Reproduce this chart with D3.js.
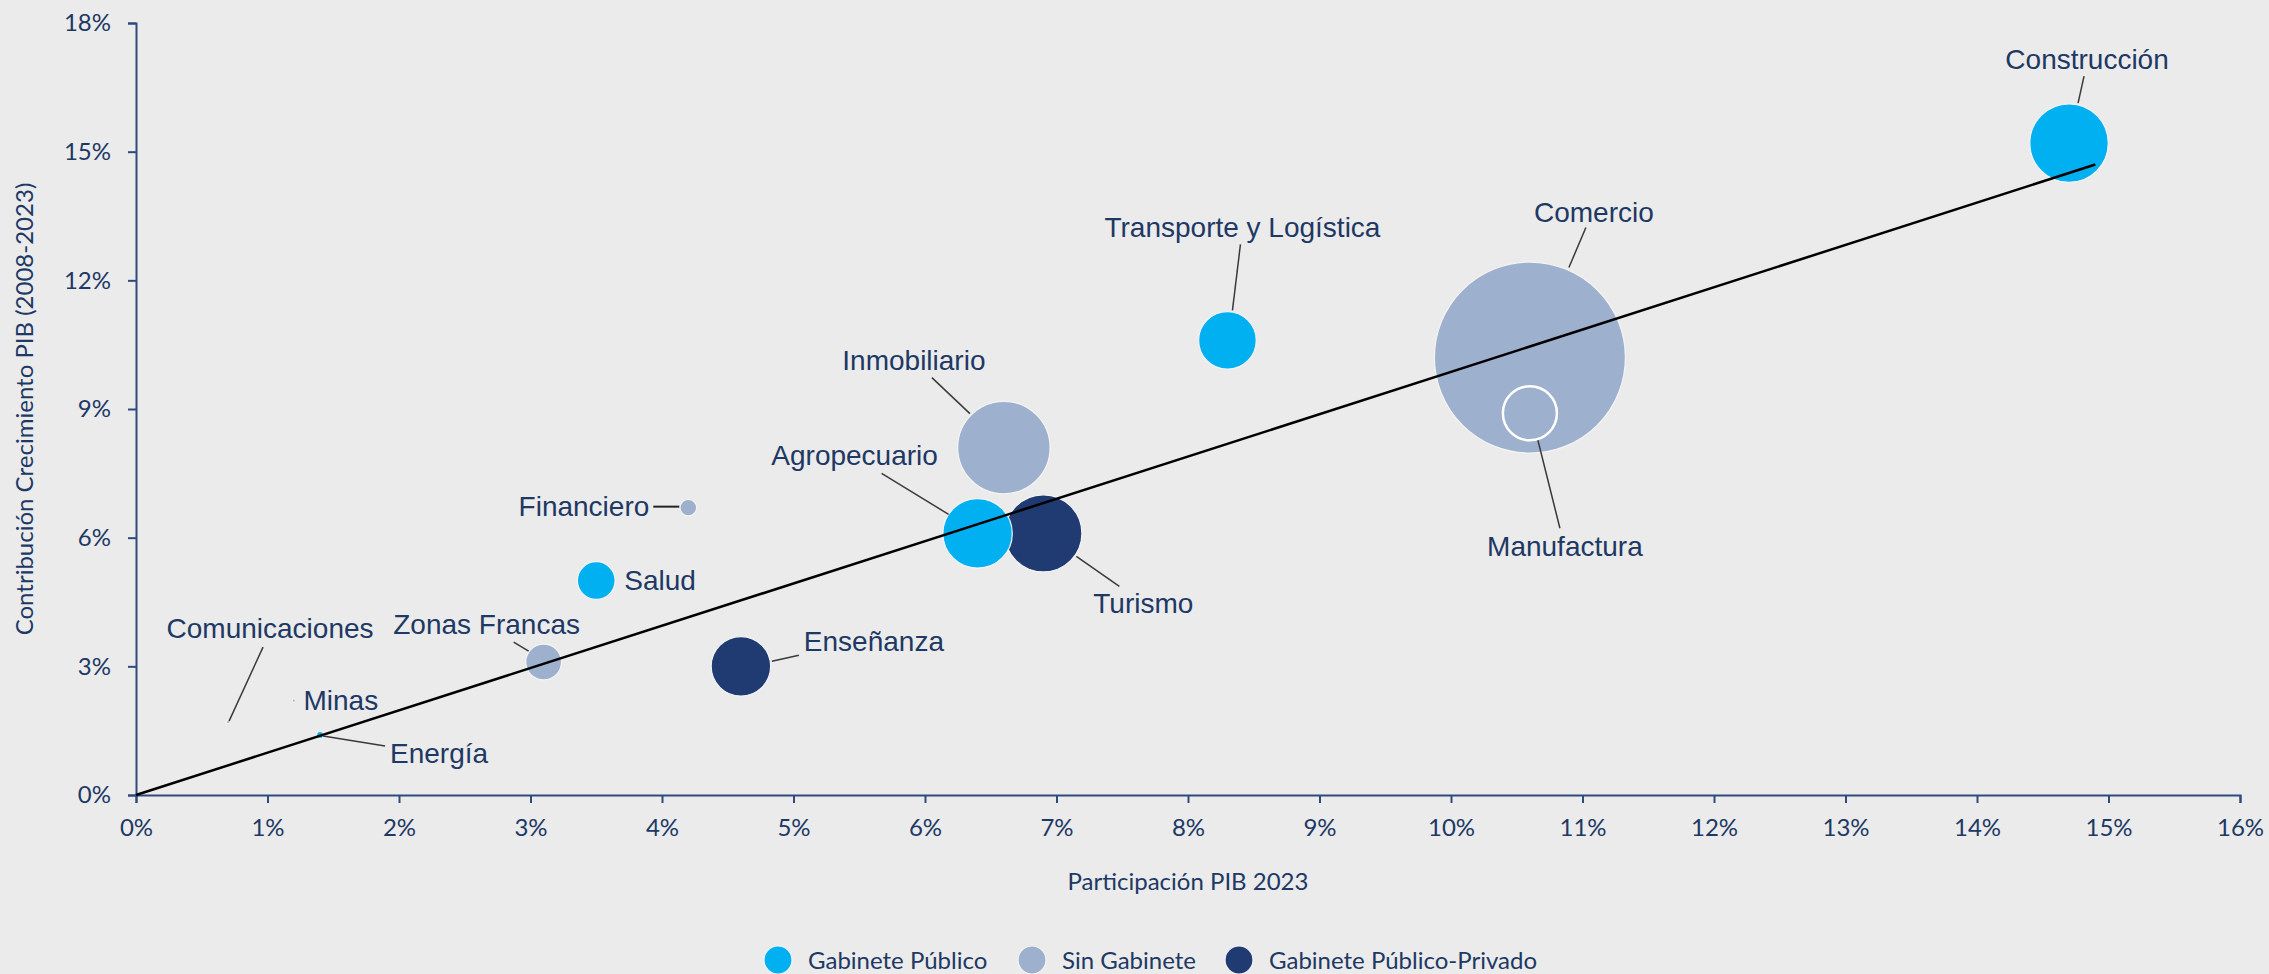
<!DOCTYPE html>
<html>
<head>
<meta charset="utf-8">
<script src="https://cdn.jsdelivr.net/npm/d3@7"></script>
<style>
  html, body { margin: 0; padding: 0; background: #ebebeb; }
  svg { display: block; }
</style>
</head>
<body>
<div id="chart"></div>
<script>
// sectores y valores
const sectores      = ["Comercio", "Inmobiliario", "Construcción", "Turismo", "Agropecuario", "Enseñanza",
                       "Transporte y Logística", "Manufactura", "Salud", "Zonas Francas", "Financiero",
                       "Energía", "Minas", "Comunicaciones"];
const participacion = [10.6, 6.6, 14.7, 6.9, 6.4, 4.6, 8.3, 10.6, 3.5, 3.1, 4.2, 1.4, 1.2, 0.7];
const contribucion  = [10.2, 8.1, 15.2, 6.1, 6.1, 3.0, 10.6, 8.9, 5.0, 3.1, 6.7, 1.4, 2.2, 1.7];
const tamano        = [100, 23.4, 16.9, 16.3, 13.2, 9.7, 9.1, 8.0, 3.9, 3.5, 0.76, 0.13, 0.03, 0.03];
const grupo         = [1, 1, 0, 2, 0, 2, 0, 1, 0, 1, 1, 0, 1, 1];

const grupos  = ["Gabinete Público", "Sin Gabinete", "Gabinete Público-Privado"];
const colores = ["#00b0f0", "#9db0ce", "#1f3b72"];

const xTicks = [0, 1, 2, 3, 4, 5, 6, 7, 8, 9, 10, 11, 12, 13, 14, 15, 16];
const yTicks = [0, 3, 6, 9, 12, 15, 18];

// linea de tendencia
const tendX = [0, 14.9];
const tendY = [0, 14.7];

// posicion de etiquetas (px, relativo al centro de la burbuja)
const etiquetas = {
    "Construcción":           { dx: 18,   dy: -74, anchor: "middle", line: [[15, -67], [9, -40]] },
    "Comercio":               { dx: 64,   dy: -136, anchor: "middle", line: [[56, -130], [39, -90]] },
    "Manufactura":            { dx: 35,   dy: 143, anchor: "middle", line: [[30, 115], [8, 27]] },
    "Transporte y Logística": { dx: 15,   dy: -103, anchor: "middle", line: [[13, -96], [5, -30]] },
    "Inmobiliario":           { dx: -90,  dy: -78, anchor: "middle", line: [[-72, -70], [-34, -34]] },
    "Agropecuario":           { dx: -123, dy: -68, anchor: "middle", line: [[-96, -60], [-29, -19]] },
    "Turismo":                { dx: 100,  dy: 80, anchor: "middle", line: [[76, 53], [33, 23]] },
    "Financiero":             { dx: -39,  dy: 8, anchor: "end", line: [[-35, -1], [-9, -1]] },
    "Salud":                  { dx: 28,   dy: 9, anchor: "start" },
    "Zonas Francas":          { dx: -57,  dy: -28, anchor: "middle", line: [[-30, -20], [-15, -11]] },
    "Enseñanza":              { dx: 133,  dy: -15, anchor: "middle", line: [[58, -11], [31, -5]] },
    "Energía":                { dx: 119,  dy: 28, anchor: "middle", line: [[65, 11], [3, 1]] },
    "Minas":                  { dx: 47,   dy: 9, anchor: "middle" },
    "Comunicaciones":         { dx: 42,   dy: -84, anchor: "middle", line: [[35, -75], [1, -1]] }
};

const WIDTH  = 2269;
const HEIGHT = 974;
const MARGIN = { top: 23, right: 29, bottom: 179, left: 136 };
const TEXT   = "#203864";
const AXIS   = "#2f4a7c";
const FONT   = "Lato, 'Open Sans', sans-serif";
const LFONT  = "'Liberation Sans', Arial, sans-serif";

const data = sectores.map((s, i) => ({
    name: s, x: participacion[i], y: contribucion[i], size: tamano[i], g: grupo[i]
}));

const svg = d3.select("#chart").append("svg")
    .attr("width", WIDTH)
    .attr("height", HEIGHT)
    .style("background", "#ebebeb");

const x = d3.scaleLinear().domain([0, 16]).range([MARGIN.left, WIDTH - MARGIN.right]);
const y = d3.scaleLinear().domain([0, 18]).range([HEIGHT - MARGIN.bottom, MARGIN.top]);
const r = d3.scaleSqrt().domain([0, 100]).range([0, 95.5]);

// ejes
const gx = svg.append("g")
    .attr("transform", `translate(0,${y(0)})`)
    .call(d3.axisBottom(x).tickValues(xTicks).tickSize(8).tickSizeOuter(8).tickPadding(16).tickFormat(d => d + "%"));

const gy = svg.append("g")
    .attr("transform", `translate(${x(0)},0)`)
    .call(d3.axisLeft(y).tickValues(yTicks).tickSize(8).tickSizeOuter(8).tickPadding(17).tickFormat(d => d + "%"));

[gx, gy].forEach(g => {
    g.select(".domain").attr("stroke", AXIS).attr("stroke-width", 2);
    g.selectAll(".tick line").attr("stroke", AXIS).attr("stroke-width", 2);
    g.selectAll(".tick text")
        .attr("fill", TEXT)
        .style("font-family", FONT)
        .style("font-size", "24px");
});

// titulos de ejes
svg.append("text")
    .attr("x", x(8))
    .attr("y", 890)
    .attr("text-anchor", "middle")
    .attr("fill", TEXT)
    .style("font-family", FONT)
    .style("font-size", "24px")
    .text("Participación PIB 2023");

svg.append("text")
    .attr("transform", `translate(33,${y(9)}) rotate(-90)`)
    .attr("text-anchor", "middle")
    .attr("fill", TEXT)
    .style("font-family", FONT)
    .style("font-size", "24px")
    .text("Contribución Crecimiento PIB (2008-2023)");

// burbujas, de mayor a menor
const sorted = data.slice().sort((a, b) => b.size - a.size);

svg.append("g")
    .selectAll("circle")
    .data(sorted)
    .join("circle")
    .attr("cx", d => x(d.x))
    .attr("cy", d => y(d.y))
    .attr("r", d => Math.max(r(d.size), 1.5))
    .attr("fill", d => colores[d.g])
    .attr("stroke", d => d.name === "Manufactura" ? "#ffffff" : "#f4f4f4")
    .attr("stroke-width", d => d.name === "Manufactura" ? 2.5 : 1.2);

// tendencia
svg.append("path")
    .datum(tendX.map((v, i) => [v, tendY[i]]))
    .attr("fill", "none")
    .attr("stroke", "#000")
    .attr("stroke-width", 2.5)
    .attr("d", d3.line().x(d => x(d[0])).y(d => y(d[1])));

// lineas guia
svg.append("g")
    .selectAll("line")
    .data(data.filter(d => etiquetas[d.name].line))
    .join("line")
    .attr("x1", d => x(d.x) + etiquetas[d.name].line[0][0])
    .attr("y1", d => y(d.y) + etiquetas[d.name].line[0][1])
    .attr("x2", d => x(d.x) + etiquetas[d.name].line[1][0])
    .attr("y2", d => y(d.y) + etiquetas[d.name].line[1][1])
    .attr("stroke", d => d.name === "Financiero" ? "#222" : "#3a3a3a")
    .attr("stroke-width", d => d.name === "Financiero" ? 2 : 1.5);

// etiquetas
svg.append("g")
    .selectAll("text")
    .data(data)
    .join("text")
    .attr("x", d => x(d.x) + etiquetas[d.name].dx)
    .attr("y", d => y(d.y) + etiquetas[d.name].dy)
    .attr("text-anchor", d => etiquetas[d.name].anchor)
    .attr("fill", TEXT)
    .style("font-family", LFONT)
    .style("font-size", "28px")
    .text(d => d.name);

// leyenda
const legendX = [778, 1032, 1239];
const legend = svg.append("g");

legend.selectAll("circle")
    .data(grupos)
    .join("circle")
    .attr("cx", (d, i) => legendX[i])
    .attr("cy", 960)
    .attr("r", 14)
    .attr("fill", (d, i) => colores[i])
    .attr("stroke", "#f4f4f4")
    .attr("stroke-width", 1.2);

legend.selectAll("text")
    .data(grupos)
    .join("text")
    .attr("x", (d, i) => legendX[i] + 30)
    .attr("y", 969)
    .attr("fill", TEXT)
    .style("font-family", FONT)
    .style("font-size", "24px")
    .text(d => d);
</script>
</body>
</html>
